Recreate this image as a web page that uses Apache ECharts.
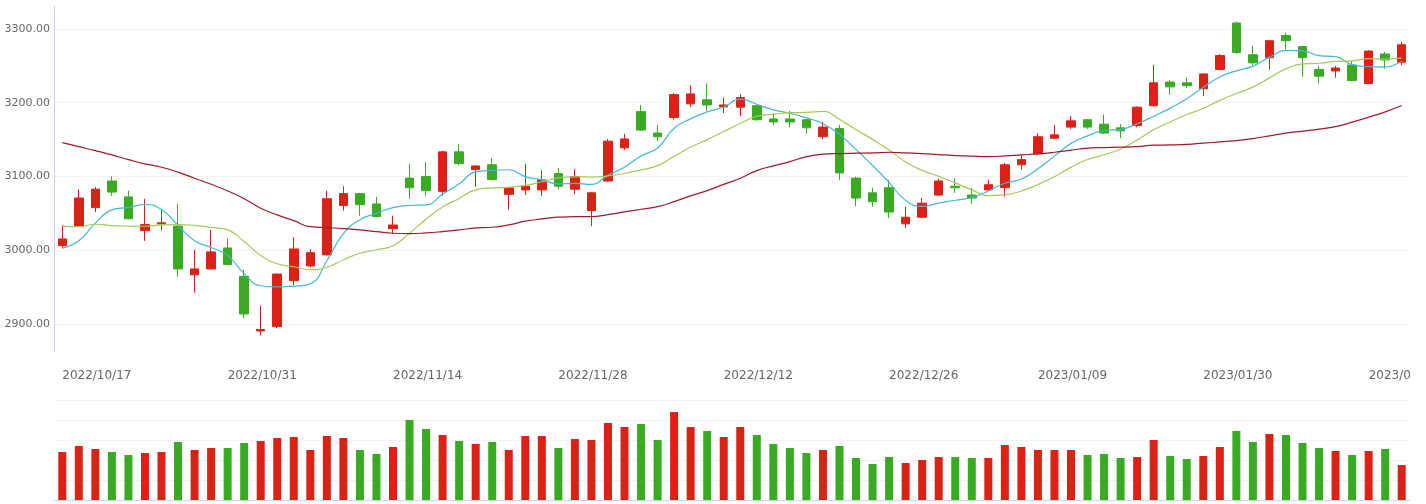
<!DOCTYPE html>
<html>
<head>
<meta charset="utf-8">
<script src="https://cdn.jsdelivr.net/npm/echarts@6/dist/echarts.min.js"></script>
<style>
  html, body { margin:0; padding:0; background:#fff; }
  #main { width:1410px; height:504px; overflow:hidden; }
</style>
</head>
<body>
<div id="main"></div>
<script>
const dates = [
 '2022/10/17','2022/10/18','2022/10/19','2022/10/20','2022/10/21','2022/10/24','2022/10/25','2022/10/26','2022/10/27','2022/10/28','2022/10/31',
 '2022/11/01','2022/11/02','2022/11/03','2022/11/04','2022/11/07','2022/11/08','2022/11/09','2022/11/10','2022/11/11','2022/11/14','2022/11/15',
 '2022/11/16','2022/11/17','2022/11/18','2022/11/21','2022/11/22','2022/11/23','2022/11/24','2022/11/25','2022/11/28','2022/11/29','2022/11/30',
 '2022/12/01','2022/12/02','2022/12/05','2022/12/06','2022/12/07','2022/12/08','2022/12/09','2022/12/12','2022/12/13','2022/12/14','2022/12/15',
 '2022/12/16','2022/12/19','2022/12/20','2022/12/21','2022/12/22','2022/12/23','2022/12/26','2022/12/27','2022/12/28','2022/12/29','2022/12/30',
 '2023/01/03','2023/01/04','2023/01/05','2023/01/06','2023/01/09','2023/01/10','2023/01/11','2023/01/12','2023/01/13','2023/01/16','2023/01/17',
 '2023/01/18','2023/01/19','2023/01/20','2023/01/30','2023/01/31','2023/02/01','2023/02/02','2023/02/03','2023/02/06','2023/02/07','2023/02/08',
 '2023/02/09','2023/02/10','2023/02/13','2023/02/14','2023/02/15'
];
const tickLabels = ['2022/10/17','2022/10/31','2022/11/14','2022/11/28','2022/12/12','2022/12/26','2023/01/09','2023/01/30','2023/02/13'];

const opens = [3006.5,3033,3058,3094,3072.5,3027,3036,3033,2967,2975,3003.4,2965,2891,2897,2959,2979,2994,3061,3077,3063,
 3029.5,3098,3100,3080,3133.5,3109.5,3116,3076,3082,3082,3104,3083,3054,3094,3139,3188,3159,3180,3198.5,3204,
 3194.4,3194,3196,3178,3178,3177,3154,3165,3098,3078,3085,3036,3045,3075,3087,3075,3082,3085,3116,3131,
 3152,3167,3177,3171,3166,3169,3196,3228,3227,3219,3245,3308,3265,3261,3291,3276,3245,3243,3251,3226,3266,3255];
const closes = [3015.6,3071,3083,3079,3043,3035,3037.5,2975,2975,2998,2981,2914,2893,2968,3002,2997,3070,3077,3062,3046,
 3034.5,3085,3081,3133.5,3117.6,3114.5,3096,3085,3087,3095.5,3087,3100,3078,3148,3151,3163,3154,3211,3212,3197,
 3197,3207,3177,3174,3174,3166,3167,3105,3071,3066,3052,3045,3064,3094,3085,3071,3089,3116,3123,3154,
 3156.5,3175.5,3167,3159,3162,3194,3227,3221.5,3223,3239,3264,3268,3254,3284,3284,3261,3236,3247,3230,3270,3258,3278.5];
const lows = [3003,3032,3052,3074,3042,3013,3027,2964.5,2943,2974.5,2980,2908,2885,2895,2953,2977,2993,3054,3047,3045,
 3023,3070,3074,3074,3115,3086,3095,3055,3075,3074,3083,3076,3033,3093,3136,3162,3148,3177,3194,3188,
 3186,3182,3175.5,3170,3167,3158,3151,3095.5,3060,3059,3044,3030.5,3044.5,3074,3078,3063,3081,3072.5,3109.5,3130,
 3151,3164.6,3164.6,3158,3152,3167,3195,3211,3220,3209,3244,3266,3251,3245,3272,3235,3226,3234,3229,3225,3246,3251];
const highs = [3034,3083,3086,3100,3081,3070,3055,3063,3001,3028,3016,2974,2925,2969,3018,3002,3081,3087,3078,3072.5,
 3047,3117,3120,3135,3144,3115,3125,3085.5,3117,3108,3112,3110,3079,3151,3158,3197,3170,3213,3224,3226,
 3207,3212,3196.5,3186,3189,3178,3174,3170,3100,3085,3095.5,3059,3071,3097,3098,3085,3095.5,3118.6,3129,3159,
 3170,3182,3178,3184,3171,3195,3251,3231,3234,3240,3266,3310,3277,3284.5,3295,3277,3250,3250,3257,3271,3269,3282.5];
const volumes = [48,54,51,48,45,47,48,58,50,52,52,57,59,62,63,50,64,62,50,46,53,80,71,65,59,56,
 58,50,64,64,52,61,60,77,73,76,60,88,73,69,63,73,65,56,52,47,50,54,42,36,43,37,40,43,
 43,42,42,55,53,50,50,50,45,46,42,43,60,44,41,44,53,69,58,66,65,57,52,49,45,49,51,35];
const ma5 = [3003,3013,3037,3055,3058.3,3062.2,3055.5,3033.9,3013.1,3004.1,2993.3,2968.6,2952.2,2950.8,2951.6,2954.8,2986,3022.8,3041.6,3050.4,
 3057.9,3060.9,3061.7,3076,3090.3,3106.3,3108.5,3109.3,3100,3095.6,3090.1,3090.9,3089.5,3101.7,3112.8,3128,3138.8,3165.4,3178.2,3187.4,
 3194.2,3204.8,3198,3190.4,3185.8,3179.6,3171.6,3157.2,3136.6,3115,3092.2,3067.8,3059.6,3064.2,3068,3071.8,3080.6,3091,3096.8,3110.6,
 3127.7,3145,3155.2,3162.4,3164,3171.5,3181.8,3192.7,3205.5,3220.9,3234.9,3243.1,3249.6,3261.8,3270.8,3270.2,3263.8,3262.4,3251.6,3248.8,3248.2,3256.7];
const ma10 = [3033,3032.2,3035.5,3033.6,3033,3032.8,3034.5,3035,3034,3031.2,3027.8,3012.1,2993.1,2982,2977.9,2974.1,2977.3,2987.5,2996.2,3001,
 3006.4,3023.5,3042.3,3058.8,3070.4,3082.1,3084.7,3085.5,3088,3093,3098.2,3099.7,3099.4,3100.9,3104.2,3109.1,3114.9,3127.5,3140,3150.1,
 3161.1,3171.8,3181.7,3184.3,3186.6,3186.9,3188.2,3177.6,3163.5,3150.4,3135.9,3119.7,3108.4,3100.4,3091.5,3082,3074.2,3075.3,3080.5,3089.3,
 3099.8,3112.8,3123.1,3129.6,3137.3,3149.6,3163.4,3174,3184,3192.5,3203.2,3212.5,3221.2,3233.7,3245.9,3252.6,3253.5,3256,3256.7,3259.8,3259.2,3260.3];
const ma60 = [3146,3140.6,3135.2,3129.4,3123,3117.2,3112.7,3106,3097.8,3089.7,3080.6,3070,3057.2,3048.1,3040.4,3032.2,3030.9,3029.6,3027.8,3025.5,
 3023.3,3022.8,3023.7,3025.5,3027.8,3030.5,3031.4,3034.6,3039.6,3042.7,3045,3045.9,3045.9,3048.5,3052.2,3055.8,3059.4,3066.1,3073.9,3081,
 3089.5,3097.8,3108.1,3114.5,3120.3,3127.1,3130.4,3131.2,3131.7,3132.1,3133,3132.1,3131.2,3129.8,3128.5,3127.6,3127.1,3128,3129.4,3130.8,
 3133,3135.8,3138.5,3139.3,3139.8,3140.6,3142.5,3142.9,3143.6,3145.3,3147,3148.8,3151.5,3155.1,3158.8,3161.5,3164.2,3167.7,3173.7,3180.5,3187.7,3196.2];

const UP = '#dc2117';
const DOWN = '#39ab22';

const candleData = opens.map((o, i) => [o, closes[i], lows[i], highs[i]]);
const volData = volumes.map((v, i) => ({
  value: v,
  itemStyle: { color: closes[i] >= opens[i] ? UP : DOWN }
}));

const chart = echarts.init(document.getElementById('main'), null, { renderer: 'canvas' });
const font = 'DejaVu Sans';
chart.setOption({
  animation: false,
  grid: [
    { left: 54, right: 0, top: 6, height: 346, outerBoundsMode: 'none', containLabel: false },
    { left: 54, right: 0, top: 400, height: 100, outerBoundsMode: 'none', containLabel: false }
  ],
  xAxis: [
    {
      type: 'category', gridIndex: 0, data: dates, boundaryGap: true,
      axisLine: { show: false }, axisTick: { show: false }, splitLine: { show: false },
      axisLabel: {
        interval: (idx, val) => tickLabels.includes(val),
        align: 'left', margin: 18, color: '#666', fontSize: 12, fontFamily: font,
        hideOverlap: false
      }
    },
    {
      type: 'category', gridIndex: 1, data: dates, boundaryGap: true,
      axisLine: { show: true, lineStyle: { color: '#ccd6eb' } },
      axisTick: { show: false }, axisLabel: { show: false }, splitLine: { show: false }
    }
  ],
  yAxis: [
    {
      type: 'value', gridIndex: 0, scale: true, min: 2862.5, max: 3331,
      axisLine: { show: true, lineStyle: { color: '#ccd6eb' } },
      axisTick: { show: false },
      axisLabel: {
        formatter: v => v.toFixed(2), margin: 4, color: '#666', fontSize: 11, fontFamily: font,
        showMinLabel: false, showMaxLabel: false
      },
      splitLine: { showMinLine: false, showMaxLine: false, lineStyle: { color: '#f2f2f2' } }
    },
    {
      type: 'value', gridIndex: 1, min: 0, max: 100, interval: 20,
      axisLine: { show: false }, axisTick: { show: false }, axisLabel: { show: false },
      splitLine: { lineStyle: { color: '#f1f3f6' } }
    }
  ],
  series: [
    {
      type: 'candlestick', xAxisIndex: 0, yAxisIndex: 0, data: candleData, barWidth: 9,
      itemStyle: { color: UP, color0: DOWN, borderColor: UP, borderColor0: DOWN, borderWidth: 1 }
    },
    {
      type: 'line', name: 'MA5', data: ma5, smooth: true, symbol: 'none',
      lineStyle: { color: '#44b7d6', width: 1.2 }
    },
    {
      type: 'line', name: 'MA10', data: ma10, smooth: true, symbol: 'none',
      lineStyle: { color: '#a6c85a', width: 1.2 }
    },
    {
      type: 'line', name: 'MA60', data: ma60, smooth: true, symbol: 'none',
      lineStyle: { color: '#9e1b27', width: 1.2 }
    },
    {
      type: 'bar', xAxisIndex: 1, yAxisIndex: 1, data: volData, barWidth: 8
    }
  ]
});
</script>
</body>
</html>
